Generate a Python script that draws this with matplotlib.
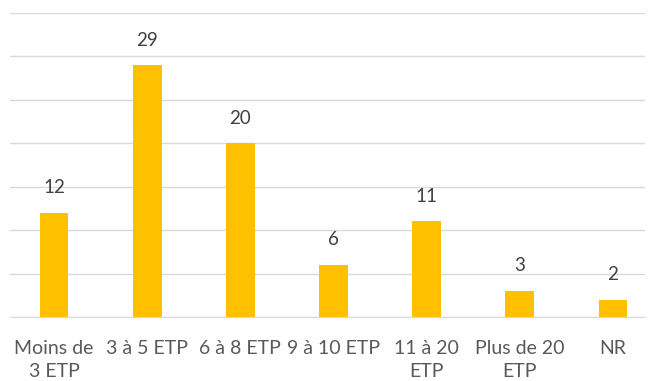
import numpy as np
import matplotlib.pyplot as plt

categories = ["Moins de\n3 ETP", "3 à 5 ETP", "6 à 8 ETP", "9 à 10 ETP", "11 à 20\nETP", "Plus de 20\nETP", "NR"]
values = [12, 29, 20, 6, 11, 3, 2]

plt.rcParams['font.family'] = ['Lato', 'DejaVu Sans']

fig = plt.figure(figsize=(6.52, 3.81), dpi=100)
ax = fig.add_axes([10/652, 64/381, 635/652, 304/381])

x = np.arange(len(categories))
ax.bar(x, values, width=0.31, color="#FFC000", zorder=3)
for xi, v in zip(x, values):
    ax.text(xi, v + 1.9, str(v), ha="center", va="bottom", fontsize=13.5, color="#404040")

ax.set_xlim(-0.472, 6.343)
ax.set_ylim(0, 35)
ax.set_yticks(np.arange(0, 36, 5))
ax.yaxis.grid(True, color="#D9D9D9", linewidth=1)
ax.tick_params(axis="y", left=False, labelleft=False)
ax.tick_params(axis="x", bottom=False, labelsize=14, labelcolor="#595959", pad=13)
ax.set_xticks(x)
ax.set_xticklabels(categories, linespacing=1.4, va="top")
for s in ["top", "right", "left"]:
    ax.spines[s].set_visible(False)
ax.spines["bottom"].set_color("#D9D9D9")

fig.savefig("out.png", dpi=100)
